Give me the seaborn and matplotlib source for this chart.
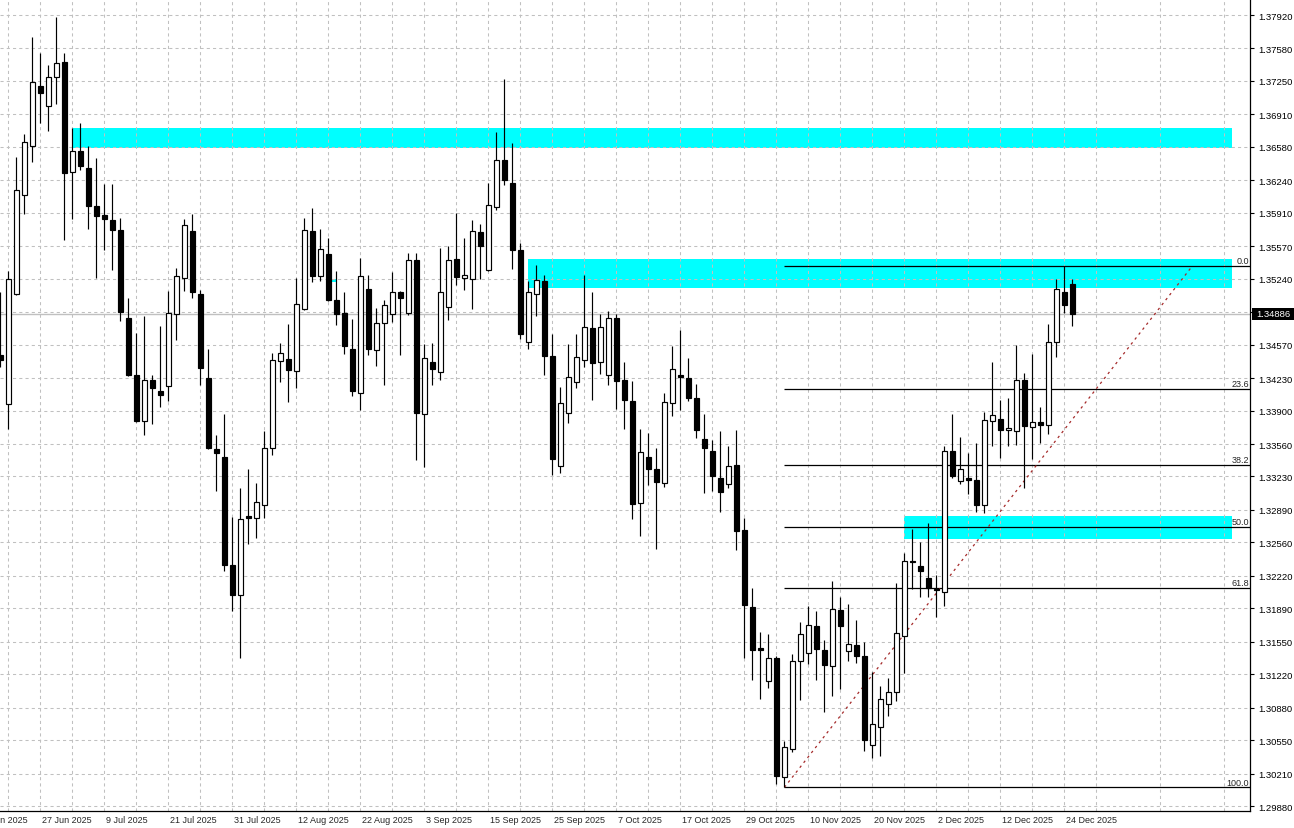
import numpy as np
import pandas as pd
import matplotlib
matplotlib.use('Agg')
import matplotlib.pyplot as plt
import matplotlib.transforms as mtransforms
from matplotlib.patches import Rectangle
import seaborn as sns

sns.set_style("white")
plt.rcParams['font.family'] = ['Liberation Sans', 'DejaVu Sans']

# Daily candles, oldest first (one per trading day)
opens = [
    1.3446, 1.3397, 1.3508, 1.3609, 1.3659, 1.3720, 1.3700, 1.3729, 1.3744, 1.3632,
    1.3654, 1.3637, 1.3598, 1.3589, 1.3584, 1.3574, 1.3484, 1.3426, 1.3379, 1.3421,
    1.3410, 1.3415, 1.3488, 1.3525, 1.3572, 1.3508, 1.3423, 1.3351, 1.3343, 1.3233,
    1.3203, 1.3283, 1.3281, 1.3294, 1.3352, 1.3440, 1.3442, 1.3430, 1.3493, 1.3573,
    1.3527, 1.3549, 1.3502, 1.3489, 1.3453, 1.3408, 1.3514, 1.3452, 1.3479, 1.3488,
    1.3511, 1.3489, 1.3543, 1.3387, 1.3439, 1.3429, 1.3495, 1.3544, 1.3525, 1.3524,
    1.3571, 1.3533, 1.3597, 1.3645, 1.3621, 1.3553, 1.3460, 1.3508, 1.3522, 1.3445,
    1.3334, 1.3388, 1.3419, 1.3441, 1.3474, 1.3439, 1.3426, 1.3484, 1.3421, 1.3400,
    1.3296, 1.3343, 1.3331, 1.3316, 1.3398, 1.3426, 1.3423, 1.3403, 1.3361, 1.3349,
    1.3321, 1.3315, 1.3335, 1.3269, 1.3190, 1.3149, 1.3115, 1.3138, 1.3018, 1.3046,
    1.3135, 1.3144, 1.3171, 1.3147, 1.3130, 1.3187, 1.3146, 1.3152, 1.3141, 1.3050,
    1.3068, 1.3092, 1.3104, 1.3161, 1.3237, 1.3232, 1.3220, 1.3209, 1.3206, 1.3349,
    1.3318, 1.3321, 1.3319, 1.3294, 1.3379, 1.3381, 1.3370, 1.3369, 1.3421, 1.3373,
    1.3378, 1.3375, 1.3460, 1.3510, 1.3519,
]
highs = [
    1.3511, 1.3532, 1.3648, 1.3671, 1.3770, 1.3753, 1.3741, 1.3790, 1.3753, 1.3677,
    1.3682, 1.3659, 1.3647, 1.3620, 1.3620, 1.3586, 1.3504, 1.3469, 1.3486, 1.3426,
    1.3476, 1.3512, 1.3535, 1.3585, 1.3590, 1.3513, 1.3453, 1.3365, 1.3386, 1.3282,
    1.3311, 1.3331, 1.3316, 1.3369, 1.3449, 1.3459, 1.3478, 1.3525, 1.3586, 1.3596,
    1.3575, 1.3565, 1.3532, 1.3510, 1.3483, 1.3545, 1.3528, 1.3494, 1.3502, 1.3531,
    1.3512, 1.3550, 1.3550, 1.3458, 1.3459, 1.3555, 1.3557, 1.3591, 1.3565, 1.3584,
    1.3580, 1.3621, 1.3673, 1.3727, 1.3662, 1.3560, 1.3522, 1.3538, 1.3528, 1.3468,
    1.3414, 1.3458, 1.3468, 1.3528, 1.3511, 1.3488, 1.3491, 1.3488, 1.3439, 1.3420,
    1.3371, 1.3367, 1.3352, 1.3408, 1.3456, 1.3472, 1.3443, 1.3417, 1.3387, 1.3360,
    1.3369, 1.3354, 1.3370, 1.3281, 1.3210, 1.3165, 1.3163, 1.3141, 1.3054, 1.3143,
    1.3175, 1.3191, 1.3186, 1.3157, 1.3217, 1.3201, 1.3193, 1.3177, 1.3155, 1.3124,
    1.3110, 1.3118, 1.3215, 1.3245, 1.3270, 1.3256, 1.3276, 1.3223, 1.3354, 1.3386,
    1.3363, 1.3347, 1.3357, 1.3389, 1.3439, 1.3401, 1.3403, 1.3457, 1.3428, 1.3447,
    1.3394, 1.3478, 1.3524, 1.3537, 1.3524,
]
lows = [
    1.3434, 1.3371, 1.3507, 1.3590, 1.3643, 1.3682, 1.3674, 1.3702, 1.3563, 1.3585,
    1.3635, 1.3575, 1.3525, 1.3553, 1.3533, 1.3481, 1.3425, 1.3378, 1.3365, 1.3376,
    1.3394, 1.3400, 1.3462, 1.3512, 1.3504, 1.3416, 1.3351, 1.3308, 1.3227, 1.3186,
    1.3139, 1.3254, 1.3260, 1.3281, 1.3345, 1.3419, 1.3399, 1.3413, 1.3492, 1.3521,
    1.3522, 1.3501, 1.3477, 1.3447, 1.3405, 1.3391, 1.3446, 1.3435, 1.3416, 1.3480,
    1.3446, 1.3487, 1.3340, 1.3333, 1.3416, 1.3421, 1.3482, 1.3518, 1.3513, 1.3493,
    1.3524, 1.3532, 1.3594, 1.3619, 1.3534, 1.3463, 1.3453, 1.3486, 1.3426, 1.3324,
    1.3327, 1.3377, 1.3413, 1.3434, 1.3401, 1.3427, 1.3416, 1.3392, 1.3371, 1.3280,
    1.3262, 1.3314, 1.3249, 1.3312, 1.3384, 1.3391, 1.3400, 1.3362, 1.3306, 1.3308,
    1.3287, 1.3311, 1.3248, 1.3139, 1.3116, 1.3097, 1.3108, 1.3010, 1.3007, 1.3043,
    1.3096, 1.3132, 1.3116, 1.3084, 1.3100, 1.3107, 1.3135, 1.3133, 1.3044, 1.3037,
    1.3039, 1.3080, 1.3095, 1.3123, 1.3209, 1.3201, 1.3201, 1.3180, 1.3191, 1.3321,
    1.3315, 1.3305, 1.3287, 1.3286, 1.3354, 1.3342, 1.3354, 1.3355, 1.3311, 1.3341,
    1.3357, 1.3366, 1.3444, 1.3489, 1.3476,
]
closes = [
    1.3441, 1.3524, 1.3614, 1.3663, 1.3724, 1.3713, 1.3729, 1.3743, 1.3631, 1.3654,
    1.3639, 1.3598, 1.3588, 1.3585, 1.3574, 1.3490, 1.3426, 1.3379, 1.3421, 1.3413,
    1.3406, 1.3489, 1.3527, 1.3579, 1.3511, 1.3433, 1.3352, 1.3347, 1.3233, 1.3203,
    1.3280, 1.3281, 1.3297, 1.3352, 1.3441, 1.3449, 1.3431, 1.3498, 1.3574, 1.3527,
    1.3554, 1.3502, 1.3488, 1.3456, 1.3410, 1.3527, 1.3453, 1.3479, 1.3497, 1.3511,
    1.3504, 1.3543, 1.3388, 1.3443, 1.3432, 1.3511, 1.3543, 1.3526, 1.3528, 1.3572,
    1.3557, 1.3599, 1.3645, 1.3624, 1.3553, 1.3468, 1.3511, 1.3523, 1.3445, 1.3341,
    1.3398, 1.3424, 1.3444, 1.3475, 1.3438, 1.3475, 1.3484, 1.3420, 1.3401, 1.3295,
    1.3348, 1.3331, 1.3317, 1.3399, 1.3432, 1.3424, 1.3403, 1.3370, 1.3352, 1.3323,
    1.3307, 1.3334, 1.3268, 1.3192, 1.3147, 1.3147, 1.3139, 1.3019, 1.3048, 1.3135,
    1.3163, 1.3172, 1.3148, 1.3131, 1.3188, 1.3171, 1.3153, 1.3141, 1.3055, 1.3071,
    1.3097, 1.3104, 1.3164, 1.3237, 1.3236, 1.3227, 1.3210, 1.3208, 1.3349, 1.3323,
    1.3331, 1.3319, 1.3294, 1.3380, 1.3385, 1.3370, 1.3372, 1.3421, 1.3374, 1.3378,
    1.3375, 1.3460, 1.3514, 1.3497, 1.34886,
]

# Date labels on the time axis (bar index where each label sits)
date_bars = [-3, 5, 13, 21, 29, 37, 45, 53, 61, 69, 77, 85, 93, 101, 109, 117, 125, 133]
date_labels = ['17 Jun 2025', '27 Jun 2025', '9 Jul 2025', '21 Jul 2025', '31 Jul 2025',
               '12 Aug 2025', '22 Aug 2025', '3 Sep 2025', '15 Sep 2025', '25 Sep 2025',
               '7 Oct 2025', '17 Oct 2025', '29 Oct 2025', '10 Nov 2025', '20 Nov 2025',
               '2 Dec 2025', '12 Dec 2025', '24 Dec 2025']

# Price scale labels
price_ticks = [1.37920, 1.37580, 1.37250, 1.36910, 1.36580, 1.36240, 1.35910, 1.35570,
               1.35240, 1.34570, 1.34230, 1.33900, 1.33560, 1.33230, 1.32890, 1.32560,
               1.32220, 1.31890, 1.31550, 1.31220, 1.30880, 1.30550, 1.30210, 1.29880]
last_price = 1.34886

# Supply / demand zones: start bar, end bar, top, bottom
zone_start = [9, 66, 113, 41.4]
zone_end = [154, 154, 154, 42.0]
zone_top = [1.3677, 1.3544, 1.3283, 1.3524]
zone_bottom = [1.3657, 1.3515, 1.3259, 1.3521]

# Fibonacci retracement
fib_levels = [0.0, 23.6, 38.2, 50.0, 61.8, 100.0]
fib_high = 1.3537
fib_low = 1.3007
fib_low_bar = 98
fib_high_bar = 149

df = pd.DataFrame({'open': opens, 'high': highs, 'low': lows, 'close': closes})
df['bar'] = np.arange(len(df))
df['bull'] = df['close'] > df['open']

fig = plt.figure(figsize=(12.94, 8.29), dpi=100)
ax = fig.add_axes([0, 17 / 829, 1250 / 1294, 812 / 829])
x_left, x_right = -0.04, 156.2

# zones
for s, e, t, b in zip(zone_start, zone_end, zone_top, zone_bottom):
    ax.fill_between([s, e], b, t, color='#00ffff', lw=0, zorder=1)

# current price line
ax.axhline(last_price, color='#c0c0c0', lw=1.0, zorder=1.6)

# fibonacci lines and labels
trp = mtransforms.blended_transform_factory(ax.transAxes, ax.transData)
fib_rng = fib_high - fib_low
for lvl in fib_levels:
    yv = fib_high - fib_rng * lvl / 100
    ax.hlines(yv, fib_low_bar, x_right, color='black', lw=0.9, zorder=2)
    ax.text(0.999, yv + 0.00008, f'{lvl:.1f}', transform=trp,
            ha='right', va='bottom', fontsize=6.5, zorder=5)
sns.lineplot(x=[fib_low_bar, fib_high_bar], y=[fib_low, fib_high], ax=ax, color='#a52a2a',
             lw=0.9, linestyle=(0, (2, 3)), zorder=2.2)

# candles
ax.vlines(df['bar'], df['low'], df['high'], color='black', lw=0.85, zorder=3)
body_bot = df[['open', 'close']].min(axis=1)
body_h = (df['close'] - df['open']).abs().clip(lower=0.00004)
ax.bar(df['bar'], body_h, bottom=body_bot, width=0.55,
       color=np.where(df['bull'], 'white', 'black'), edgecolor='black', linewidth=0.85, zorder=4)

# grid and ticks
ax.set_yticks(price_ticks)
ax.set_yticklabels([f'{p:.5f}' for p in price_ticks])
ax.set_yticks([1.34905], minor=True)
ax.set_xticks(date_bars)
ax.set_xticklabels([])
ax.set_xticks(np.arange(1, 157, 8), minor=True)
ax.set_axisbelow('line')
ax.grid(which='both', color='#c0c0c0', linestyle=(0, (3, 3)), linewidth=0.75)

ax.yaxis.tick_right()
ax.tick_params(axis='y', which='both', length=3, width=0.8, pad=3, labelsize=6.8, colors='black')
ax.tick_params(axis='x', which='major', length=4, width=0.8, direction='out')
ax.tick_params(axis='x', which='minor', length=0)
for side in ['top', 'left']:
    ax.spines[side].set_visible(False)
for side in ['right', 'bottom']:
    ax.spines[side].set_color('black')
    ax.spines[side].set_linewidth(0.9)

# limits last, so the tick settings cannot widen them
ax.set_xlim(x_left, x_right)
ax.set_ylim(1.29830, 1.38083)

# date labels to the right of each tick
tr = mtransforms.blended_transform_factory(ax.transData, ax.transAxes)
for b, lbl in zip(date_bars, date_labels):
    ax.text(b + 0.25, -0.0099, lbl, transform=tr, ha='left', va='center',
            fontsize=6.5, clip_on=False)

# bid price box on the scale
ax.add_patch(Rectangle((1.0016, last_price - 0.00061), 0.04, 0.00122, transform=trp,
                       facecolor='black', edgecolor='none', clip_on=False, zorder=6))
ax.text(1.0048, last_price, f'{last_price:.5f}', transform=trp, ha='left', va='center',
        color='white', fontsize=6.8, clip_on=False, zorder=7)

fig.savefig('out.png', dpi=100)
